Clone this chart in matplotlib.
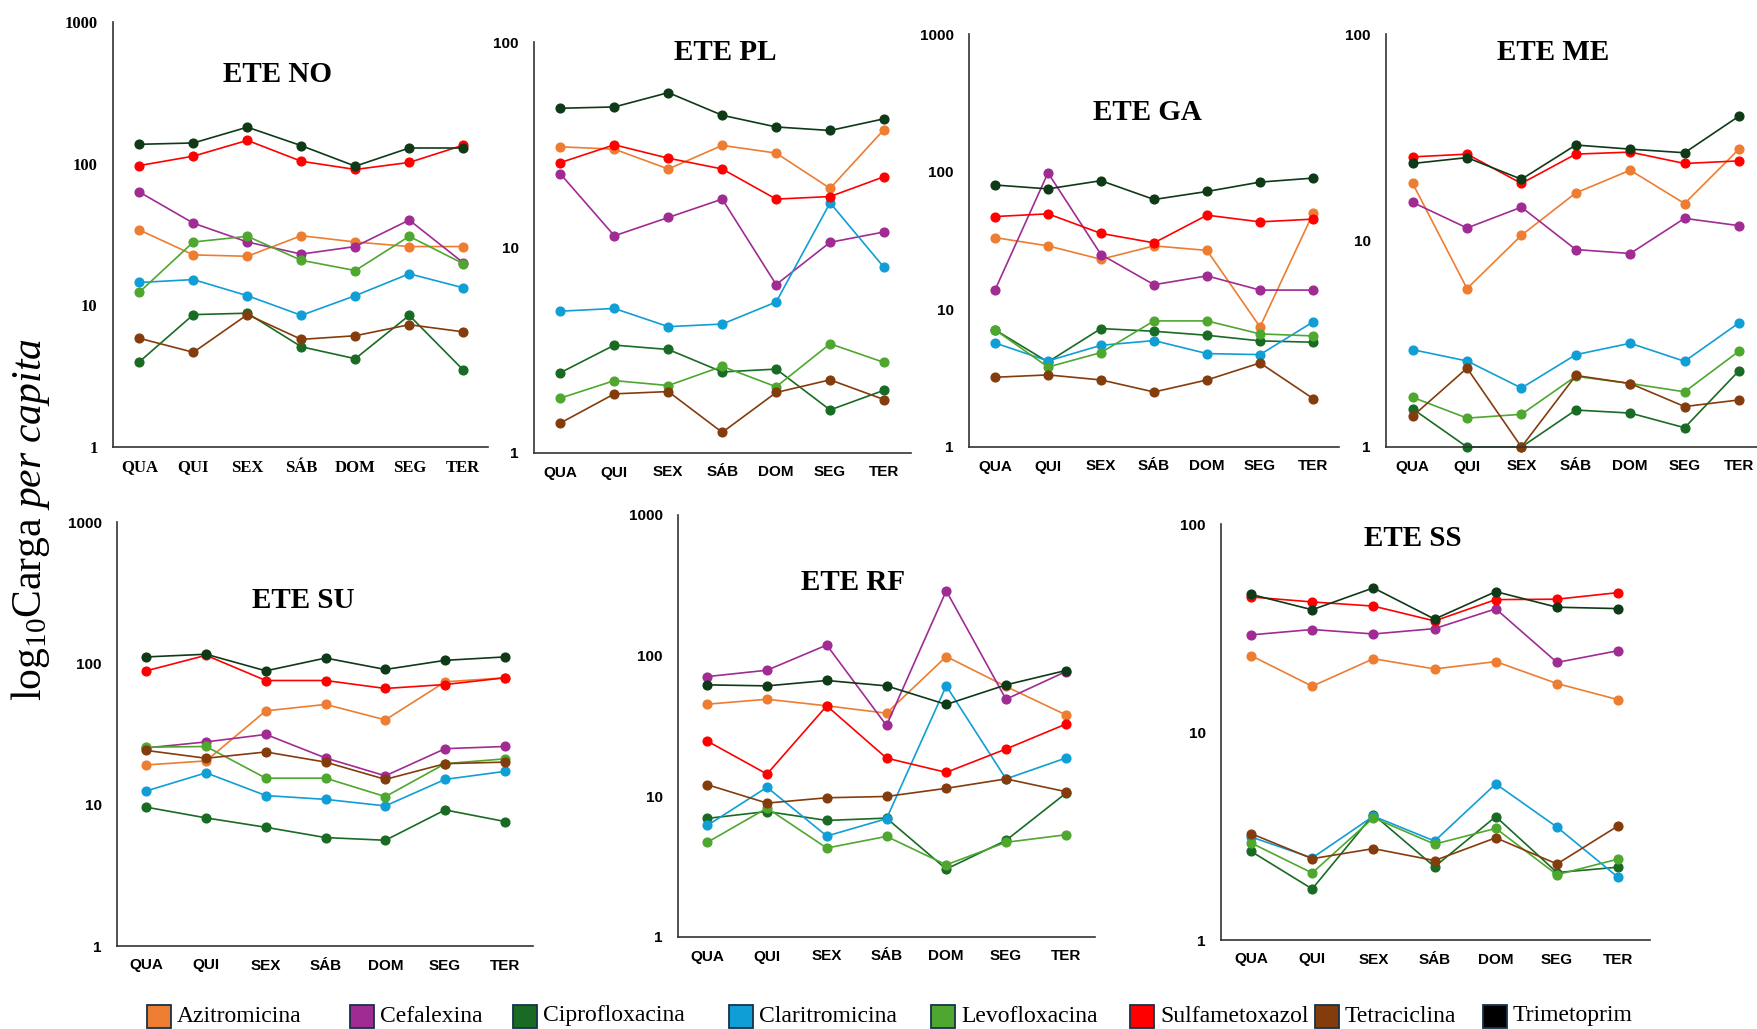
import matplotlib
matplotlib.use("Agg")
import matplotlib.pyplot as plt
from matplotlib.patches import Rectangle

W, H = 1758, 1029

DAYS = ["QUA", "QUI", "SEX", "SÁB", "DOM", "SEG", "TER"]
DRUGS = ["Azitromicina", "Cefalexina", "Ciprofloxacina", "Claritromicina",
         "Levofloxacina", "Sulfametoxazol", "Tetraciclina", "Trimetoprim"]
LINE_COLORS = ["#ED7D31", "#A02B93", "#196B24", "#0F9ED5",
               "#4EA72E", "#FF0000", "#843C0C", "#0E3A17"]
LEGEND_COLORS = ["#ED7D31", "#A02B93", "#196B24", "#0F9ED5",
                 "#4EA72E", "#FF0000", "#843C0C", "#000000"]

# carga per capita, one list per antibiotic (order of DRUGS)
ete_no = {
    "Azitromicina":   [34, 22.7, 22.2, 31, 28, 26, 26],
    "Cefalexina":     [63, 38, 28, 23, 26, 40, 20],
    "Ciprofloxacina": [4.0, 8.6, 8.8, 5.1, 4.2, 8.5, 3.5],
    "Claritromicina": [14.5, 15.2, 11.7, 8.5, 11.7, 16.7, 13.3],
    "Levofloxacina":  [12.4, 28, 30.7, 20.8, 17.6, 30.7, 19.7],
    "Sulfametoxazol": [97, 113, 146, 104, 91, 102, 135],
    "Tetraciclina":   [5.85, 4.66, 8.6, 5.75, 6.1, 7.3, 6.5],
    "Trimetoprim":    [137, 140, 181, 134, 96, 129, 129],
}
ete_pl = {
    "Azitromicina":   [30.9, 30.1, 24.1, 31.4, 28.8, 19.4, 37.5],
    "Cefalexina":     [22.8, 11.4, 14.0, 17.2, 6.6, 10.6, 11.9],
    "Ciprofloxacina": [2.46, 3.35, 3.19, 2.48, 2.56, 1.62, 2.02],
    "Claritromicina": [4.9, 5.05, 4.12, 4.24, 5.43, 16.5, 8.0],
    "Levofloxacina":  [1.85, 2.25, 2.13, 2.64, 2.1, 3.4, 2.76],
    "Sulfametoxazol": [25.9, 31.6, 27.2, 24.1, 17.2, 17.7, 22.1],
    "Tetraciclina":   [1.4, 1.94, 1.99, 1.26, 1.97, 2.27, 1.82],
    "Trimetoprim":    [47.6, 48.3, 56.7, 44, 38.6, 37.1, 42.3],
}
ete_ga = {
    "Azitromicina":   [33.2, 28.9, 23.1, 28.9, 26.8, 7.45, 49.7],
    "Cefalexina":     [13.8, 98, 25, 15.1, 17.5, 13.8, 13.8],
    "Ciprofloxacina": [7.1, 4.15, 7.25, 6.93, 6.48, 5.9, 5.77],
    "Claritromicina": [5.7, 4.22, 5.48, 5.93, 4.77, 4.69, 8.1],
    "Levofloxacina":  [7.1, 3.81, 4.85, 8.24, 8.24, 6.63, 6.41],
    "Sulfametoxazol": [47.2, 49.4, 35.6, 30.4, 48.3, 43.2, 45.2],
    "Tetraciclina":   [3.21, 3.34, 3.07, 2.51, 3.07, 4.08, 2.25],
    "Trimetoprim":    [80, 75, 86, 62.8, 71.8, 84, 89.8],
}
ete_me = {
    "Azitromicina":   [18.9, 5.85, 10.6, 17, 21.9, 15.1, 27.7],
    "Cefalexina":     [15.3, 11.5, 14.5, 9.04, 8.65, 12.8, 11.8],
    "Ciprofloxacina": [1.53, 1.0, 1.0, 1.51, 1.46, 1.24, 2.34],
    "Claritromicina": [2.96, 2.61, 1.93, 2.8, 3.18, 2.6, 3.99],
    "Levofloxacina":  [1.74, 1.38, 1.44, 2.2, 2.03, 1.85, 2.91],
    "Sulfametoxazol": [25.4, 26.2, 18.9, 26.2, 26.8, 23.6, 24.3],
    "Tetraciclina":   [1.41, 2.41, 1.0, 2.22, 2.03, 1.57, 1.69],
    "Trimetoprim":    [23.6, 25.2, 19.8, 29, 27.7, 26.6, 40],
}
ete_su = {
    "Azitromicina":   [19.1, 20.4, 46.1, 51.2, 39.8, 74, 79],
    "Cefalexina":     [25.2, 27.8, 31.4, 21.4, 16, 24.9, 25.8],
    "Ciprofloxacina": [9.6, 8.06, 6.92, 5.85, 5.6, 9.18, 7.6],
    "Claritromicina": [12.5, 16.8, 11.6, 10.9, 9.8, 15.1, 17.2],
    "Levofloxacina":  [25.5, 25.8, 15.4, 15.4, 11.4, 19.5, 21.1],
    "Sulfametoxazol": [88.5, 114, 75.6, 75.6, 66.4, 70.8, 79],
    "Tetraciclina":   [24.2, 21.3, 23.6, 20, 15.1, 19.5, 20],
    "Trimetoprim":    [111, 116, 88.5, 109, 90.5, 105, 111],
}
ete_rf = {
    "Azitromicina":   [45.2, 49, 44, 39, 98.6, 60.4, 38],
    "Cefalexina":     [71, 78.8, 119, 31.9, 289, 49, 77],
    "Ciprofloxacina": [6.97, 7.8, 6.74, 7.0, 3.04, 4.86, 10.5],
    "Claritromicina": [6.21, 11.6, 5.22, 6.93, 61, 13.3, 18.7],
    "Levofloxacina":  [4.71, 8.25, 4.29, 5.19, 3.26, 4.71, 5.33],
    "Sulfametoxazol": [24.7, 14.4, 44, 18.7, 14.8, 21.7, 32.6],
    "Tetraciclina":   [12.1, 8.95, 9.77, 9.98, 11.4, 13.3, 10.8],
    "Trimetoprim":    [62, 61, 66.6, 61, 45, 62, 78.4],
}
ete_ss = {
    "Azitromicina":   [23.3, 16.6, 22.5, 20.1, 21.8, 17.1, 14.3],
    "Cefalexina":     [29.3, 31.1, 29.6, 31.4, 39.1, 21.6, 24.6],
    "Ciprofloxacina": [2.67, 1.76, 4.01, 2.25, 3.92, 2.11, 2.24],
    "Claritromicina": [3.13, 2.48, 3.94, 2.99, 5.63, 3.49, 2.0],
    "Levofloxacina":  [2.93, 2.1, 3.87, 2.89, 3.44, 2.06, 2.45],
    "Sulfametoxazol": [44.6, 42.2, 40.3, 34.2, 43.3, 43.5, 46.8],
    "Tetraciclina":   [3.25, 2.46, 2.75, 2.41, 3.1, 2.32, 3.54],
    "Trimetoprim":    [45.9, 38.7, 49.3, 34.9, 47.3, 39.8, 39.2],
}

plt.rcParams['mathtext.fontset'] = 'custom'
plt.rcParams['mathtext.rm'] = 'Liberation Serif'
plt.rcParams['mathtext.it'] = 'Liberation Serif:italic'

fig = plt.figure(figsize=(W / 100, H / 100), dpi=100)

# title, data, box in pixels (left, top, right, bottom), ymax, xlim right, serif ticks, title centre
panels = [
    ("ETE NO", ete_no, (113, 22, 488, 447), 1000, 6.46, True, (278, 75)),
    ("ETE PL", ete_pl, (534, 42, 911, 453), 100, 6.5, False, (725, 53)),
    ("ETE GA", ete_ga, (969, 34, 1339, 447), 1000, 6.49, False, (1147, 113)),
    ("ETE ME", ete_me, (1386, 34, 1758, 447), 100, 6.35, False, (1553, 52)),
    ("ETE SU", ete_su, (117, 522, 533, 946), 1000, 6.47, False, (303, 600)),
    ("ETE RF", ete_rf, (678, 515, 1095, 937), 1000, 6.49, False, (853, 582)),
    ("ETE SS", ete_ss, (1221, 524, 1650, 940), 100, 6.52, False, (1413, 539)),
]

for title, data, box, ymax, xr, serif, tpos in panels:
    l, t, r, b = box
    ax = fig.add_axes([l / W, 1 - b / H, (r - l) / W, (b - t) / H])
    for drug, color in zip(DRUGS, LINE_COLORS):
        ax.plot(range(len(DAYS)), data[drug], color=color, lw=1.2,
                marker='o', ms=6.3, clip_on=False)
    ax.set_yscale('log')
    ax.set_ylim(1, ymax)
    ax.set_xlim(-0.49, xr)
    yt = [10 ** k for k in range(0, 4) if 10 ** k <= ymax]
    ax.set_yticks(yt)
    ax.minorticks_off()
    ax.set_xticks(range(len(DAYS)))
    ax.set_xticklabels(DAYS)
    ax.set_yticklabels([str(v) for v in yt])
    fam = 'Liberation Serif' if serif else 'Liberation Sans'
    fs = 12 if serif else 11
    for lab in ax.get_xticklabels() + ax.get_yticklabels():
        lab.set_fontfamily(fam)
        lab.set_fontweight('bold')
        lab.set_fontsize(fs)
    ax.tick_params(axis='both', length=0)
    ax.tick_params(axis='y', pad=11)
    ax.tick_params(axis='x', pad=9)
    for s in ['top', 'right']:
        ax.spines[s].set_visible(False)
    for s in ['left', 'bottom']:
        ax.spines[s].set_color('#333333')
        ax.spines[s].set_linewidth(1.2)
    ax.patch.set_alpha(0)
    fig.text(tpos[0] / W, 1 - tpos[1] / H, title, ha='center', va='center',
             fontfamily='Liberation Serif', fontweight='bold', fontsize=21)

fig.text(31 / W, 1 - 519 / H, r'$\mathrm{log}_{10}\mathrm{Carga}\ \mathit{per\ capita}$',
         rotation=90, ha='center', va='center', fontsize=30)

# legend
leg_x = [147, 350, 513, 729, 931, 1130, 1315, 1483]
for x, name, color in zip(leg_x, DRUGS, LEGEND_COLORS):
    fig.patches.append(Rectangle((x / W, 1 - 1028 / H), 24 / W, 23 / H,
                                 transform=fig.transFigure, facecolor=color,
                                 edgecolor='#17324a', lw=1.3))
    fig.text((x + 30) / W, 1 - 1016 / H, name, ha='left', va='center',
             fontfamily='Liberation Serif', fontsize=17)

fig.savefig("out.png", dpi=100)
